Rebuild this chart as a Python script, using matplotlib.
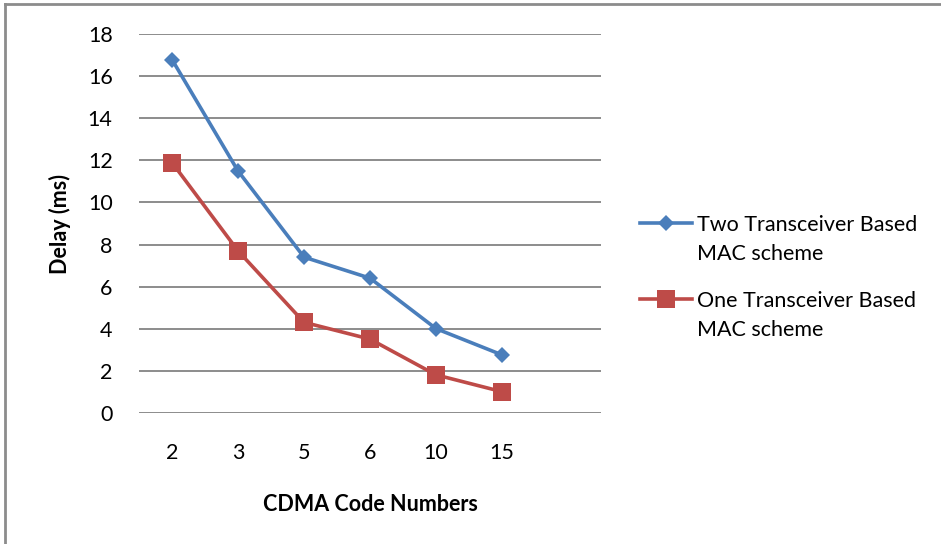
import matplotlib
matplotlib.use("Agg")
import matplotlib.pyplot as plt
from matplotlib.lines import Line2D

# CDMA code numbers on x axis (categorical)
codeNumbers = ["2", "3", "5", "6", "10", "15"]
# delay values in ms
twoTransceiver = [16.8, 11.5, 7.4, 6.4, 4.0, 2.75]
oneTransceiver = [11.9, 7.7, 4.3, 3.5, 1.8, 1.0]
seriesNames = ["Two Transceiver Based\nMAC scheme", "One Transceiver Based\nMAC scheme"]
yTicks = list(range(0, 19, 2))

blue = "#4A7EBB"
red = "#BE4B48"
fs = 15.5
plt.rcParams['font.family'] = ['Lato', 'DejaVu Sans']

fig = plt.figure(figsize=(9.41, 5.44), dpi=100)
ax = fig.add_axes([139/941, 1-412.7/544, 462/941, (412.7-34.3)/544])

xpos = list(range(len(codeNumbers)))
ax.plot(xpos, twoTransceiver, color=blue, lw=2.6, marker="D", ms=8.5,
        markeredgewidth=0, zorder=3)
ax.plot(xpos, oneTransceiver, color=red, lw=2.6, marker="s", ms=12.5,
        markeredgewidth=0, zorder=4)

ax.set_xlim(-0.5, 6.5)
ax.set_ylim(0, 18)
ax.set_yticks(yTicks)
ax.set_xticks(xpos)
ax.set_xticklabels(codeNumbers)
ax.yaxis.grid(True, color="#8c8c8c", lw=1.4)
ax.set_axisbelow(True)
for s in ax.spines.values():
    s.set_visible(False)
ax.tick_params(axis="both", length=0, labelsize=fs, colors="#000000")
ax.tick_params(axis="y", pad=19)
ax.tick_params(axis="x", pad=22)

ax.set_ylabel("Delay (ms)", fontsize=fs, fontweight="bold", labelpad=12)
ax.set_xlabel("CDMA Code Numbers", fontsize=fs, fontweight="bold", labelpad=22)

# legend drawn by hand so the handle lines up with the first text line
legY = [223, 299]
for name, col, mk, ms, y in zip(seriesNames, [blue, red], ["D", "s"], [8.5, 12.5], legY):
    fy = 1 - y/544
    fig.add_artist(Line2D([640/941, 692/941], [fy, fy], color=col, lw=2.6,
                          transform=fig.transFigure))
    fig.add_artist(Line2D([666/941], [fy], color=col, marker=mk, ms=ms,
                          markeredgewidth=0, transform=fig.transFigure))
    fig.text(697/941, fy + 8/544, name, fontsize=fs, va="top", ha="left",
             linespacing=1.55, transform=fig.transFigure)

# outer chart frame (top and left edges visible)
fig.add_artist(Line2D([5/941, 5/941], [0, 1-4/544], color="#8c8c8c", lw=2,
                      transform=fig.transFigure))
fig.add_artist(Line2D([5/941, 1], [1-4/544, 1-4/544], color="#8c8c8c", lw=2,
                      transform=fig.transFigure))

fig.savefig("out.png", dpi=100)
